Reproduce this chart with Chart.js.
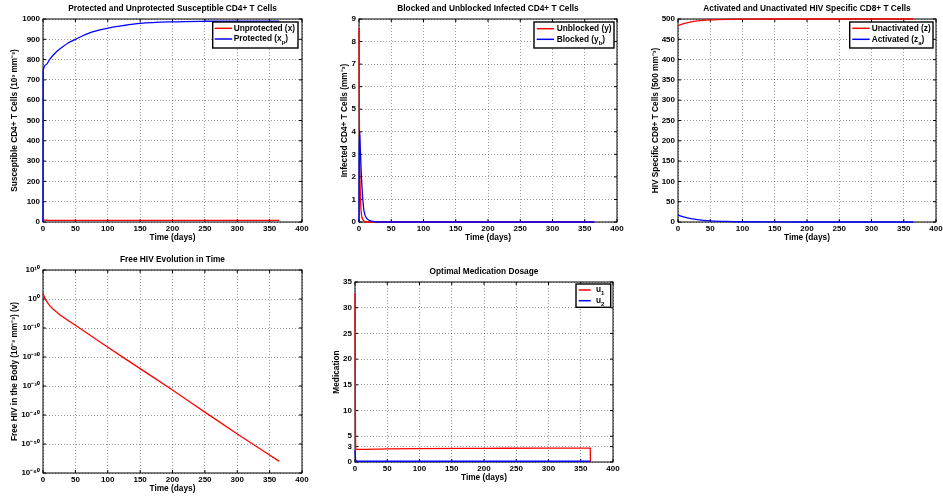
<!DOCTYPE html>
<html><head><meta charset="utf-8">
<script src="https://cdn.jsdelivr.net/npm/chart.js@4.4.0/dist/chart.umd.min.js"></script>
<style>
html,body{margin:0;padding:0;background:#fff;}
#wrap{position:relative;width:943px;height:496px;overflow:hidden;background:#fff;}
canvas{position:absolute;}
</style></head><body><div id="wrap">
<canvas id="c1"></canvas><canvas id="c2"></canvas><canvas id="c3"></canvas>
<canvas id="c4"></canvas><canvas id="c5"></canvas>
</div>
<script>
// ---------- data ----------
const timeTicks = [0, 50, 100, 150, 200, 250, 300, 350, 400];

// Plot 1: susceptible CD4+ T cells
const tUnprotected = [0, 10, 365];
const unprotected = [10, 8, 8];
const tProtected = [0, 0.3, 5, 10, 20, 30, 40, 50, 75, 100, 125, 150, 200, 250, 300, 365];
const protectedCells = [0, 745, 775, 800, 836, 862, 884, 900, 935, 955, 968, 978, 986, 989, 990, 990];
const yTicks1 = [0, 100, 200, 300, 400, 500, 600, 700, 800, 900, 1000];

// Plot 2: infected CD4+ T cells
const tUnblocked = [0, 0.3, 0.7, 1.2, 2, 3, 4, 6, 9, 14, 365];
const unblocked = [8.6, 6, 4, 2.5, 1.3, 0.6, 0.3, 0.1, 0.02, 0, 0];
const tBlocked = [0, 0.5, 1.2, 2.3, 3.8, 5.4, 7.7, 12, 20, 30, 365];
const blocked = [0, 4.05, 3.9, 3.0, 2.0, 1.2, 0.5, 0.16, 0.04, 0, 0];
const yTicks2 = [0, 1, 2, 3, 4, 5, 6, 7, 8, 9];

// Plot 3: CD8+ T cells
const tUnactivated = [0, 10, 20, 30, 50, 75, 100, 150, 365];
const unactivated = [484, 489, 493, 495.5, 498, 499.3, 499.7, 500, 500];
const tActivated = [0, 10, 20, 30, 50, 75, 100, 150, 200, 365];
const activated = [17, 12, 8.5, 6, 3, 1.3, 0.6, 0.1, 0, 0];
const yTicks3 = [0, 50, 100, 150, 200, 250, 300, 350, 400, 450, 500];

// Plot 4: free HIV (log scale)
const tVirus = [0, 2.6, 10, 23, 49, 95, 150, 200, 250, 300, 365];
const virus = [1e2, 2.5e0, 6e-3, 1.3e-5, 1.3e-9, 1.3e-16, 1e-24, 4e-32, 1e-39, 3e-47, 1e-56];
const yTicks4 = [1e-60, 1e-50, 1e-40, 1e-30, 1e-20, 1e-10, 1e0, 1e10];

// Plot 5: medication
const tU1 = [0, 0.4, 0.8, 1.5, 5, 50, 100, 200, 300, 364.8, 365];
const u1 = [32.8, 18, 5, 2.45, 2.45, 2.55, 2.6, 2.65, 2.7, 2.7, 0];
const tU2 = [0, 0.5, 1, 2, 5, 365];
const u2 = [2.3, 1.2, 0.5, 0.25, 0.15, 0.15];
const yTicks5 = [0, 3, 5, 10, 15, 20, 25, 30, 35];

// ---------- styling ----------
const FAM = '"Liberation Sans", Arial, Helvetica, sans-serif';
const RED = 'rgb(255,0,0)', BLUE = 'rgb(0,0,255)';
Chart.defaults.font.family = FAM;
Chart.defaults.font.weight = 'bold';
Chart.defaults.color = '#000';

function pts(t, v) { return t.map((x, i) => ({x: x, y: v[i]})); }
const SUP = {'0':'\u2070','1':'\u00b9','2':'\u00b2','3':'\u00b3','4':'\u2074','5':'\u2075','6':'\u2076','7':'\u2077','8':'\u2078','9':'\u2079','-':'\u207b'};
function sup(n) { return String(n).split('').map(c => SUP[c]).join(''); }

function richParts(str) {
  const parts = []; let i = 0, buf = '';
  while (i < str.length) {
    const c = str[i];
    if (c === '_' || c === '^') {
      if (buf) { parts.push({t: buf, m: 0}); buf = ''; }
      let s;
      if (str[i + 1] === '{') { const j = str.indexOf('}', i); s = str.slice(i + 2, j); i = j + 1; }
      else { s = str[i + 1]; i += 2; }
      parts.push({t: s, m: c === '_' ? -1 : 1});
    } else { buf += c; i++; }
  }
  if (buf) parts.push({t: buf, m: 0});
  return parts;
}
function drawRich(ctx, str, x, y, size) {
  ctx.textBaseline = 'middle'; ctx.textAlign = 'left';
  for (const p of richParts(str)) {
    const s = p.m ? size * 0.72 : size;
    ctx.font = 'bold ' + s + 'px ' + FAM;
    const dy = p.m === -1 ? size * 0.45 : (p.m === 1 ? -size * 0.4 : 0);
    ctx.fillText(p.t, x, y + dy);
    x += ctx.measureText(p.t).width;
  }
}

const matlabAxes = {
  id: 'matlabAxes',
  beforeDatasetsDraw(chart) {
    const {ctx, chartArea: a, scales} = chart;
    ctx.save();
    ctx.strokeStyle = '#000';
    ctx.lineWidth = 1;
    ctx.strokeRect(a.left, a.top, a.right - a.left, a.bottom - a.top);
    const L = 3;
    ctx.beginPath();
    scales.x.ticks.forEach(t => {
      const p = scales.x.getPixelForValue(t.value);
      ctx.moveTo(p, a.bottom); ctx.lineTo(p, a.bottom - L);
      ctx.moveTo(p, a.top); ctx.lineTo(p, a.top + L);
    });
    scales.y.ticks.forEach(t => {
      const p = scales.y.getPixelForValue(t.value);
      ctx.moveTo(a.left, p); ctx.lineTo(a.left + L, p);
      ctx.moveTo(a.right, p); ctx.lineTo(a.right - L, p);
    });
    ctx.stroke();
    ctx.restore();
  },
  afterDatasetsDraw(chart, args, opts) {
    const lg = opts.legend;
    if (!lg) return;
    const {ctx, chartArea: a} = chart;
    const L = a.right - lg.left, R = a.right - lg.right, T = a.top + lg.top;
    ctx.save();
    ctx.fillStyle = '#fff';
    ctx.fillRect(L, T, R - L, lg.height);
    ctx.strokeStyle = '#000';
    ctx.lineWidth = 1.4;
    ctx.strokeRect(L, T, R - L, lg.height);
    lg.items.forEach((it, i) => {
      const y = T + lg.rows[i];
      ctx.strokeStyle = it.color;
      ctx.lineWidth = 1.5;
      ctx.beginPath(); ctx.moveTo(L + lg.line[0], y); ctx.lineTo(L + lg.line[1], y); ctx.stroke();
      ctx.fillStyle = '#000';
      drawRich(ctx, it.text, L + lg.textX, y, 8.3);
    });
    ctx.restore();
  },
  afterDraw(chart, args, opts) {
    const {ctx, chartArea: a} = chart;
    ctx.save();
    ctx.fillStyle = '#000';
    ctx.font = 'bold 8.3px ' + FAM;
    ctx.textAlign = 'center'; ctx.textBaseline = 'middle';
    ctx.fillText(opts.title, (a.left + a.right) / 2, a.top - 10.5);
    ctx.restore();
  }
};

const XH = 22;
function makeChart(cfg) {
  const cv = document.getElementById(cfg.id);
  const w = cfg.area.r + cfg.rightPad - cfg.cx;
  const h = cfg.area.b + XH - cfg.cy;
  cv.width = w; cv.height = h;
  cv.style.left = cfg.cx + 'px'; cv.style.top = cfg.cy + 'px';
  cv.style.width = w + 'px'; cv.style.height = h + 'px';
  const YW = cfg.area.l - cfg.cx;
  const gridOpts = {color: 'rgba(0,0,0,0.5)', lineWidth: 0.8, drawTicks: false};
  const borderOpts = {display: false, dash: [1, 2]};
  const yScale = {
    type: cfg.logY ? 'logarithmic' : 'linear',
    min: cfg.yTicks[0], max: cfg.yTicks[cfg.yTicks.length - 1],
    afterBuildTicks: s => { s.ticks = cfg.yTicks.map(v => ({value: v})); },
    afterFit: s => { s.width = YW; s.paddingTop = 0; s.paddingBottom = 0; },
    grid: gridOpts, border: borderOpts,
    ticks: {padding: 3, autoSkip: false, font: {size: 8, weight: 'bold'}, color: '#000',
      callback: cfg.logY ? (v => '10' + sup(Math.round(Math.log10(v)))) : (v => String(v))},
    title: {display: true, text: cfg.yTitle, padding: {top: cfg.yTitleX - 4.98, bottom: 0},
      font: {size: 8.3, weight: 'bold'}, color: '#000'}
  };
  const xScale = {
    type: 'linear', min: 0, max: 400,
    afterBuildTicks: s => { s.ticks = timeTicks.map(v => ({value: v})); },
    afterFit: s => { s.height = XH; s.paddingLeft = 0; s.paddingRight = 0; },
    grid: gridOpts, border: borderOpts,
    ticks: {padding: 2, autoSkip: false, maxRotation: 0, font: {size: 8, weight: 'bold'}, color: '#000',
      callback: v => String(v)},
    title: {display: true, text: 'Time (days)', padding: {top: 0, bottom: 1},
      font: {size: 8.3, weight: 'bold'}, color: '#000'}
  };
  const n = cfg.series.length;
  return new Chart(cv, {
    type: 'line',
    data: {datasets: cfg.series.map((s, i) => ({
      data: pts(s.t, s.v), borderColor: s.color, borderWidth: 1.3, pointRadius: 0,
      fill: false, cubicInterpolationMode: 'monotone', clip: 2, order: n - i
    }))},
    options: {
      responsive: false, animation: false, events: [],
      layout: {padding: {top: cfg.area.t - cfg.cy, right: cfg.rightPad, left: 0, bottom: 0}},
      scales: {x: xScale, y: yScale},
      plugins: {legend: {display: false}, tooltip: {enabled: false},
        matlabAxes: {title: cfg.title, legend: cfg.legend}}
    },
    plugins: [matlabAxes]
  });
}

makeChart({
  id: 'c1', cx: 0, cy: 0, rightPad: 10, area: {l: 43, t: 19, r: 302, b: 222},
  title: 'Protected and Unprotected Susceptible CD4+ T Cells',
  yTitle: 'Susceptible CD4+ T Cells (10\u00b3 mm\u207b\u00b3)', yTitleX: 15,
  yTicks: yTicks1,
  series: [{t: tUnprotected, v: unprotected, color: RED}, {t: tProtected, v: protectedCells, color: BLUE}],
  legend: {left: 89.3, right: 4, top: 3, height: 26, line: [2, 19.5], textX: 21, rows: [6.3, 17],
    items: [{text: 'Unprotected (x)', color: RED}, {text: 'Protected (x_p)', color: BLUE}]}
});
makeChart({
  id: 'c2', cx: 325, cy: 0, rightPad: 10, area: {l: 359, t: 19, r: 617, b: 222},
  title: 'Blocked and Unblocked Infected CD4+ T Cells',
  yTitle: 'Infected CD4+ T Cells (mm\u207b\u00b3)', yTitleX: 20,
  yTicks: yTicks2,
  series: [{t: tUnblocked, v: unblocked, color: RED}, {t: tBlocked, v: blocked, color: BLUE}],
  legend: {left: 83, right: 3, top: 3, height: 26, line: [2.7, 20], textX: 22.7, rows: [6.7, 17.3],
    items: [{text: 'Unblocked (y)', color: RED}, {text: 'Blocked (y_b)', color: BLUE}]}
});
makeChart({
  id: 'c3', cx: 640, cy: 0, rightPad: 7, area: {l: 678, t: 19, r: 936, b: 222},
  title: 'Activated and Unactivated HIV Specific CD8+ T Cells',
  yTitle: 'HIV Specific CD8+ T Cells (500 mm\u207b\u00b3)', yTitleX: 15.3,
  yTicks: yTicks3,
  series: [{t: tUnactivated, v: unactivated, color: RED}, {t: tActivated, v: activated, color: BLUE}],
  legend: {left: 86.3, right: 3, top: 3, height: 26, line: [2.6, 20], textX: 22, rows: [6.3, 17.3],
    items: [{text: 'Unactivated (z)', color: RED}, {text: 'Activated (z_a)', color: BLUE}]}
});
makeChart({
  id: 'c4', cx: 0, cy: 250, rightPad: 10, area: {l: 43, t: 270, r: 302, b: 473},
  title: 'Free HIV Evolution in Time',
  yTitle: 'Free HIV in the Body (10\u207b\u00b3 mm\u207b\u00b3) (v)', yTitleX: 15,
  yTicks: yTicks4, logY: true,
  series: [{t: tVirus, v: virus, color: RED}],
  legend: null
});
makeChart({
  id: 'c5', cx: 325, cy: 250, rightPad: 10, area: {l: 355, t: 282, r: 613, b: 462},
  title: 'Optimal Medication Dosage',
  yTitle: 'Medication', yTitleX: 11.7,
  yTicks: yTicks5,
  series: [{t: tU1, v: u1, color: RED}, {t: tU2, v: u2, color: BLUE}],
  legend: {left: 37, right: 2.3, top: 2, height: 23.3, line: [2.7, 14.7], textX: 20, rows: [6, 16.7],
    items: [{text: 'u_1', color: RED}, {text: 'u_2', color: BLUE}]}
});
</script>
</body></html>
